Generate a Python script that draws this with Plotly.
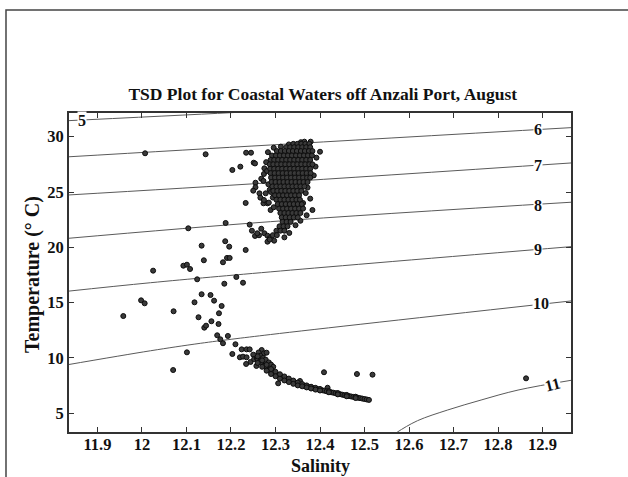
import plotly.graph_objects as go

# ---------------------------------------------------------------------------
# Observations (salinity, temperature °C)
# ---------------------------------------------------------------------------
# isolated readings between and around the two water masses
scattered = [
    (12.007, 28.50), (12.143, 28.41), (12.234, 28.55), (12.245, 28.55),
    (12.251, 27.65), (12.254, 27.58), (12.203, 26.99), (12.221, 27.29),
    (12.275, 27.14), (12.274, 26.63), (12.268, 26.20), (12.273, 26.00),
    (12.255, 25.84), (12.255, 25.43), (12.250, 25.12), (12.264, 24.88),
    (12.278, 24.88), (12.266, 24.49), (12.233, 24.01), (12.273, 23.98),
    (12.282, 23.98), (12.274, 24.28), (12.285, 24.04), (12.289, 23.37),
    (12.296, 23.62), (12.104, 21.72), (12.188, 22.20), (12.242, 22.05),
    (12.247, 21.50), (12.268, 21.68), (12.254, 21.03), (12.263, 21.09),
    (12.275, 21.27), (12.282, 21.05), (12.282, 20.51), (12.259, 21.27),
    (12.287, 20.82), (12.134, 20.15), (12.187, 20.55), (12.196, 20.06),
    (12.233, 19.76), (12.025, 17.89), (12.093, 18.34), (12.101, 18.43),
    (12.108, 18.04), (12.139, 18.83), (12.182, 18.65), (12.191, 19.04),
    (12.197, 19.04), (12.124, 17.11), (12.185, 16.71), (12.212, 17.32),
    (12.227, 16.80), (11.998, 15.21), (12.006, 14.94), (11.958, 13.79),
    (12.071, 14.22), (12.134, 15.76), (12.154, 15.69), (12.118, 15.03),
    (12.162, 15.18), (12.179, 14.70), (12.127, 13.68), (12.173, 14.04),
    (12.140, 12.74), (12.144, 12.92), (12.156, 13.32), (12.172, 13.07),
    (12.169, 12.05), (12.176, 11.69), (12.182, 11.33), (12.193, 11.99),
    (12.210, 11.24), (12.070, 8.91), (12.101, 10.51), (12.224, 10.78),
    (12.235, 10.78), (12.242, 10.78), (12.269, 10.72), (12.203, 10.36),
    (12.220, 10.06), (12.227, 10.12), (12.235, 10.06), (12.244, 9.64),
    (12.234, 9.46), (12.274, 10.42), (12.280, 10.48), (12.257, 9.28),
    (12.409, 8.71), (12.483, 8.55), (12.518, 8.49), (12.355, 7.92),
    (12.417, 7.31), (12.306, 7.71), (12.863, 8.16), (12.400, 28.64),
    (12.383, 23.37), (12.357, 29.50), (12.379, 29.55),
]

# warm surface water mass: one temperature per row, salinities along it
surface_temp_rows = [29.35, 29.05, 28.70, 28.30, 27.90, 27.50, 27.10, 26.70,
                     26.30, 25.90, 25.50, 25.10, 24.70, 24.30, 23.90, 23.50,
                     23.10, 22.70, 22.30, 21.90, 21.50, 21.10, 20.70]
surface_sal_rows = [
    [12.340, 12.349, 12.358, 12.367, 12.376],
    [12.324, 12.333, 12.342, 12.351, 12.360, 12.369, 12.378],
    [12.303, 12.312, 12.321, 12.330, 12.339, 12.348, 12.357, 12.366, 12.375, 12.383],
    [12.292, 12.301, 12.310, 12.319, 12.328, 12.337, 12.346, 12.355, 12.364, 12.373, 12.382],
    [12.289, 12.297, 12.306, 12.315, 12.324, 12.333, 12.342, 12.351, 12.360, 12.369, 12.378],
    [12.287, 12.295, 12.304, 12.313, 12.322, 12.331, 12.340, 12.349, 12.358, 12.367, 12.376, 12.383],
    [12.288, 12.297, 12.306, 12.315, 12.324, 12.333, 12.342, 12.351, 12.360, 12.369, 12.378],
    [12.289, 12.298, 12.307, 12.316, 12.325, 12.334, 12.343, 12.352, 12.361, 12.370, 12.379],
    [12.290, 12.299, 12.308, 12.317, 12.326, 12.335, 12.344, 12.353, 12.362, 12.371, 12.378],
    [12.291, 12.300, 12.309, 12.318, 12.327, 12.336, 12.345, 12.354, 12.363, 12.372],
    [12.293, 12.302, 12.311, 12.320, 12.329, 12.338, 12.347, 12.356, 12.365],
    [12.295, 12.304, 12.313, 12.322, 12.331, 12.340, 12.349, 12.358],
    [12.299, 12.308, 12.317, 12.326, 12.335, 12.344, 12.353],
    [12.302, 12.311, 12.320, 12.329, 12.338, 12.347, 12.355],
    [12.305, 12.314, 12.323, 12.332, 12.341, 12.350, 12.359],
    [12.308, 12.317, 12.326, 12.335, 12.344, 12.353, 12.362],
    [12.311, 12.320, 12.329, 12.338, 12.347, 12.356],
    [12.314, 12.323, 12.332, 12.341, 12.350],
    [12.316, 12.325, 12.334],
    [12.309, 12.318, 12.327],
    [12.302, 12.311, 12.320],
    [12.294, 12.303],
    [12.287],
]

# ragged edge readings of the surface water mass
surface_edge = [
    (12.283, 28.60), (12.279, 27.70), (12.281, 26.90), (12.284, 25.70),
    (12.287, 25.20), (12.368, 24.90), (12.372, 25.40), (12.386, 26.50),
    (12.390, 27.30), (12.365, 29.55), (12.330, 29.30), (12.312, 29.10),
    (12.290, 25.00), (12.294, 24.50), (12.362, 24.00), (12.370, 22.90),
    (12.356, 22.40), (12.345, 22.00), (12.331, 21.30), (12.320, 20.90),
    (12.297, 20.60), (12.392, 28.10), (12.296, 29.00), (12.378, 24.40),
]

# cold deep water: tight salinity-temperature curve
deep_curve = [
    (12.250, 10.30), (12.252, 9.90), (12.258, 10.00), (12.262, 10.50),
    (12.266, 10.20), (12.272, 10.00), (12.278, 9.85), (12.285, 9.60),
    (12.290, 9.40), (12.295, 9.20),
    (12.260, 9.85), (12.265, 9.66), (12.270, 9.48), (12.275, 9.30),
    (12.280, 9.12), (12.285, 8.93), (12.290, 8.77), (12.295, 8.66),
    (12.300, 8.55), (12.305, 8.44), (12.310, 8.33), (12.315, 8.24),
    (12.320, 8.15), (12.325, 8.07), (12.330, 7.98), (12.335, 7.90),
    (12.340, 7.81), (12.345, 7.73), (12.350, 7.65), (12.355, 7.59),
    (12.360, 7.54), (12.365, 7.48), (12.370, 7.43), (12.375, 7.38),
    (12.380, 7.32), (12.385, 7.27), (12.390, 7.22), (12.395, 7.18),
    (12.400, 7.13), (12.405, 7.08), (12.410, 7.04), (12.415, 6.99),
    (12.420, 6.95), (12.425, 6.90), (12.430, 6.86), (12.435, 6.82),
    (12.440, 6.77), (12.445, 6.73), (12.450, 6.68), (12.455, 6.64),
    (12.460, 6.60), (12.465, 6.56), (12.470, 6.52), (12.475, 6.48),
    (12.480, 6.44), (12.485, 6.41), (12.490, 6.37), (12.495, 6.33),
    (12.500, 6.29), (12.505, 6.25), (12.510, 6.21),
    (12.260, 10.15), (12.270, 9.78), (12.280, 9.38), (12.290, 9.00),
    (12.300, 8.75), (12.310, 8.53), (12.320, 8.33), (12.330, 8.14),
    (12.340, 7.96), (12.350, 7.78), (12.360, 7.64), (12.370, 7.52),
    (12.380, 7.40), (12.390, 7.30), (12.400, 7.20), (12.420, 7.00),
    (12.440, 6.83), (12.460, 6.66), (12.480, 6.50),
    (12.260, 9.55), (12.270, 9.20), (12.280, 8.85), (12.290, 8.55),
    (12.300, 8.35), (12.310, 8.13), (12.320, 7.97), (12.330, 7.82),
    (12.340, 7.66), (12.350, 7.52), (12.360, 7.44), (12.370, 7.34),
    (12.380, 7.24), (12.390, 7.14), (12.400, 7.06), (12.420, 6.90),
    (12.440, 6.71), (12.460, 6.54), (12.480, 6.38),
]

# ---------------------------------------------------------------------------
# Density (sigma-t) isolines
# ---------------------------------------------------------------------------
sigma_levels = [5, 6, 7, 8, 9, 10, 11]
sigma_sal = [
    [11.80, 12.20, 12.40],
    [11.83, 12.289, 12.97],
    [11.83, 12.289, 12.97],
    [11.83, 12.289, 12.97],
    [11.83, 12.019, 12.311, 12.97],
    [11.83, 12.019, 12.132, 12.289, 12.97],
    [12.560, 12.574, 12.619, 12.687, 12.762, 12.845, 12.97],
]
sigma_temp = [
    [31.38, 32.17, 32.60],
    [28.17, 29.25, 30.83],
    [24.72, 25.84, 27.64],
    [20.80, 22.32, 24.09],
    [16.02, 16.80, 17.86, 20.08],
    [9.37, 10.65, 11.33, 12.12, 15.18],
    [2.90, 3.31, 4.33, 5.30, 6.20, 7.10, 8.02],
]
label_sal = [11.866, 12.890, 12.890, 12.890, 12.890, 12.897, 12.923]
label_temp = [31.42, 30.61, 27.40, 23.78, 19.76, 14.88, 7.62]

sal_ticks = [11.9, 12.0, 12.1, 12.2, 12.3, 12.4, 12.5, 12.6, 12.7, 12.8, 12.9]
sal_tick_text = ["11.9", "12", "12.1", "12.2", "12.3", "12.4", "12.5",
                 "12.6", "12.7", "12.8", "12.9"]
temp_ticks = [5, 10, 15, 20, 25, 30]

# ---------------------------------------------------------------------------
SERIF = "Liberation Serif"

fig = go.Figure()

for s_vals, t_vals in zip(sigma_sal, sigma_temp):
    fig.add_trace(go.Scatter(
        x=s_vals, y=t_vals, mode="lines", line_shape="spline",
        line=dict(color="#5a5a5a", width=1), hoverinfo="skip",
        showlegend=False,
    ))

pts_sal = [p[0] for p in scattered + surface_edge + deep_curve]
pts_temp = [p[1] for p in scattered + surface_edge + deep_curve]
for t_row, s_row in zip(surface_temp_rows, surface_sal_rows):
    pts_sal += s_row
    pts_temp += [t_row] * len(s_row)

fig.add_trace(go.Scatter(
    x=pts_sal, y=pts_temp, mode="markers",
    marker=dict(size=5, color="#3a3a3a", line=dict(color="#0d0d0d", width=1)),
    showlegend=False,
))

for lvl, s, t in zip(sigma_levels, label_sal, label_temp):
    fig.add_annotation(
        x=s, y=t, text=str(lvl), showarrow=False,
        font=dict(family=SERIF, size=16, color="#111111", weight="bold"),
        bgcolor="white", borderpad=0,
        textangle=-14 if lvl == 11 else 0,
    )

fig.add_annotation(
    xref="paper", yref="paper", x=0.5, y=-0.108, text="Salinity",
    showarrow=False, yanchor="middle",
    font=dict(family=SERIF, size=18, color="#111111", weight="bold"),
)
fig.add_annotation(
    xref="paper", yref="paper", x=-0.074, y=0.495, text="Temperature (° C)",
    showarrow=False, textangle=-90, xanchor="center", yanchor="middle",
    font=dict(family=SERIF, size=20, color="#111111", weight="bold"),
)

# outer figure frame
fig.add_shape(
    type="rect", xref="paper", yref="paper",
    x0=-0.1255, x1=1.14, y0=-0.2, y1=1.3229,
    line=dict(color="#444444", width=1.5), fillcolor="rgba(0,0,0,0)",
    layer="below",
)

axis_common = dict(
    showgrid=False, zeroline=False, showline=True, linewidth=2,
    linecolor="#333333", mirror="ticks", ticks="inside", ticklen=5,
    tickwidth=1, tickcolor="#333333",
    tickfont=dict(family=SERIF, size=16.5, color="#111111", weight="bold"),
)

fig.update_layout(
    width=628, height=477,
    margin=dict(l=69, r=57, t=113, b=45),
    paper_bgcolor="white", plot_bgcolor="white",
    title=dict(
        text="TSD Plot for Coastal Waters off Anzali Port, August",
        x=0.514, xanchor="center", y=0.803, yanchor="middle",
        yref="container",
        font=dict(family=SERIF, size=17.5, color="#111111", weight="bold"),
    ),
    xaxis=dict(range=[11.836, 12.964], tickvals=sal_ticks,
               ticktext=sal_tick_text, automargin=False,
               ticklabelstandoff=-4, **axis_common),
    yaxis=dict(range=[3.31, 32.14], tickvals=temp_ticks,
               automargin=False, **axis_common),
)

fig.write_html("out.html")
